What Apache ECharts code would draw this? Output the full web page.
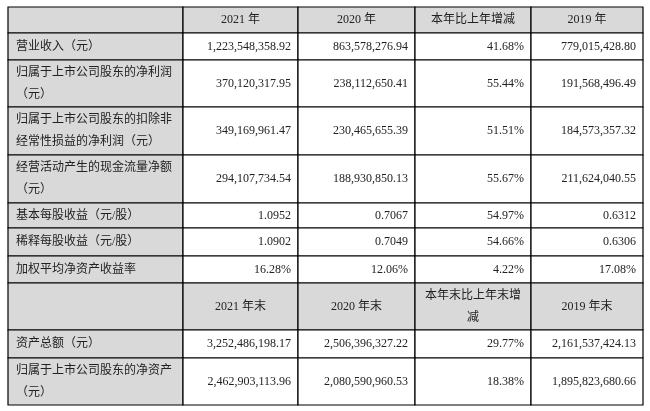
<!DOCTYPE html>
<html><head><meta charset="utf-8">
<script src="https://cdn.jsdelivr.net/npm/echarts@6/dist/echarts.min.js"></script>
<style>html,body{margin:0;padding:0;background:#fff}#c{width:650px;height:411px}</style>
</head><body><div id="c"></div>
<script>
// ---- data ----
const headers1 = ["", "2021 年", "2020 年", "本年比上年增减", "2019 年"];
const rowLabels1 = ["营业收入（元）", "归属于上市公司股东的净利润\n（元）", "归属于上市公司股东的扣除非\n经常性损益的净利润（元）", "经营活动产生的现金流量净额\n（元）", "基本每股收益（元/股）", "稀释每股收益（元/股）", "加权平均净资产收益率"];
const values2021 = ["1,223,548,358.92", "370,120,317.95", "349,169,961.47", "294,107,734.54", "1.0952", "1.0902", "16.28%"];
const values2020 = ["863,578,276.94", "238,112,650.41", "230,465,655.39", "188,930,850.13", "0.7067", "0.7049", "12.06%"];
const changes1 = ["41.68%", "55.44%", "51.51%", "55.67%", "54.97%", "54.66%", "4.22%"];
const values2019 = ["779,015,428.80", "191,568,496.49", "184,573,357.32", "211,624,040.55", "0.6312", "0.6306", "17.08%"];
const headers2 = ["", "2021 年末", "2020 年末", "本年末比上年末增\n减", "2019 年末"];
const rowLabels2 = ["资产总额（元）", "归属于上市公司股东的净资产\n（元）"];
const end2021 = ["3,252,486,198.17", "2,462,903,113.96"];
const end2020 = ["2,506,396,327.22", "2,080,590,960.53"];
const changes2 = ["29.77%", "18.38%"];
const end2019 = ["2,161,537,424.13", "1,895,823,680.66"];

// ---- layout ----
const colEdges = [8, 183, 298, 415, 531, 643];
const rowEdges = [7, 33, 60, 107, 155, 203, 228, 256, 283, 330, 358, 405];

const cells = [];
function addRow(r, arr, isHeader) {
  arr.forEach((t, c) => cells.push({ r, c, t, header: isHeader || c === 0 }));
}
addRow(0, headers1, true);
rowLabels1.forEach((l, i) => addRow(i + 1, [l, values2021[i], values2020[i], changes1[i], values2019[i]], false));
addRow(8, headers2, true);
rowLabels2.forEach((l, i) => addRow(i + 9, [l, end2021[i], end2020[i], changes2[i], end2019[i]], false));

const data = cells.map(c => [c.c, c.r]);

const chart = echarts.init(document.getElementById('c'));
chart.setOption({
  animation: false,
  grid: { left: 0, top: 0, right: 0, bottom: 0 },
  xAxis: { type: 'value', min: 0, max: 650, show: false },
  yAxis: { type: 'value', min: 0, max: 411, inverse: true, show: false },
  series: [{
    type: 'custom',
    data: data,
    renderItem: function (params, api) {
      const cell = cells[params.dataIndex];
      const p0 = api.coord([colEdges[cell.c], rowEdges[cell.r]]);
      const p1 = api.coord([colEdges[cell.c + 1], rowEdges[cell.r + 1]]);
      const w = p1[0] - p0[0], h = p1[1] - p0[1];
      let align, tx;
      if (cell.header && cell.c > 0) { align = 'center'; tx = p0[0] + w / 2; }
      else if (cell.c === 0) { align = 'left'; tx = p0[0] + 8; }
      else { align = 'right'; tx = p1[0] - 7; }
      return {
        type: 'group',
        children: [
          { type: 'rect', shape: { x: p0[0], y: p0[1], width: w, height: h },
            style: { fill: cell.header ? '#d9d9d9' : '#ffffff', stroke: '#000', lineWidth: 1.2 } },
          { type: 'text', x: tx, y: p0[1] + h / 2,
            style: { text: cell.t, align: align, verticalAlign: 'middle',
              font: '12px "Liberation Serif", "Noto Sans CJK SC", serif',
              lineHeight: 22, fill: '#222' } }
        ]
      };
    }
  }]
});
</script></body></html>
